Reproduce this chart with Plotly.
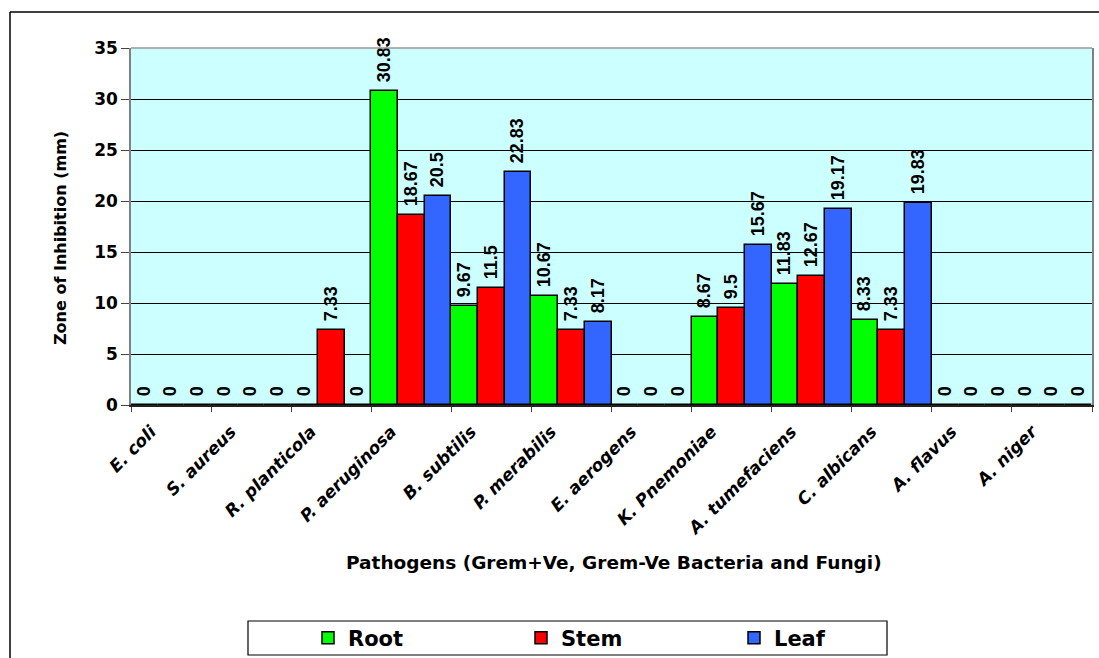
import plotly.graph_objects as go

# Pathogens tested and mean zone of inhibition (mm) for each plant part extract
pathogens = ["E. coli", "S. aureus", "R. planticola", "P. aeruginosa", "B. subtilis",
             "P. merabilis", "E. aerogens", "K. Pnemoniae", "A. tumefaciens",
             "C. albicans", "A. flavus", "A. niger"]
root = [0, 0, 0, 30.83, 9.67, 10.67, 0, 8.67, 11.83, 8.33, 0, 0]
stem = [0, 0, 7.33, 18.67, 11.5, 7.33, 0, 9.5, 12.67, 7.33, 0, 0]
leaf = [0, 0, 0, 20.5, 22.83, 8.17, 0, 15.67, 19.17, 19.83, 0, 0]

series = [("Root", root, "#00FF00"), ("Stem", stem, "#FF0000"), ("Leaf", leaf, "#3366FF")]

W, H = 1099, 658
L, R, T, B = 131, 7, 48, 253
PW, PH = W - L - R, H - T - B


def px_x(p):
    return (p - L) / PW


def px_y(p):
    return (H - B - p) / PH


HFONT = "DejaVu Sans, Arial, sans-serif"
LBL_FONT = "Liberation Sans, Arial, sans-serif"

fig = go.Figure()
for name, vals, color in series:
    fig.add_trace(go.Bar(
        name=name, x=pathogens, y=vals,
        marker=dict(color=color, line=dict(color="black", width=1.5)),
        # leading no-break space keeps the rotated value clear of the bar top
        texttemplate="\u00a0%{y}", textposition="outside", textangle=-90,
        constraintext="none", cliponaxis=False,
        textfont=dict(family=LBL_FONT, size=18, color="black", weight="bold"),
    ))

fig.update_layout(
    width=W, height=H,
    margin=dict(l=L, r=R, t=T, b=B, autoexpand=False),
    paper_bgcolor="white", plot_bgcolor="#CCFFFF",
    barmode="group", bargap=0, bargroupgap=0,
    showlegend=True,
    legend=dict(
        orientation="h", x=px_x(308), xanchor="left", y=px_y(638), yanchor="middle",
        entrywidth=168, entrywidthmode="pixels",
        bgcolor="rgba(0,0,0,0)", borderwidth=0,
        font=dict(family=HFONT, size=21, color="black", weight="bold"),
        traceorder="normal",
    ),
    xaxis=dict(
        type="category", tickson="boundaries", ticks="outside", ticklen=5,
        tickcolor="#444", tickwidth=1, tickangle=-45,
        ticklabelshift=-20, ticklabelstandoff=8,
        showline=True, linecolor="#222", linewidth=2, showgrid=False,
        tickfont=dict(family=HFONT, size=17, color="black", weight="bold", style="italic"),
    ),
    yaxis=dict(
        range=[0, 35], dtick=5, ticks="outside", ticklen=8, tickcolor="#444",
        showline=True, linecolor="#808080", linewidth=1.5, mirror=True,
        showgrid=True, gridcolor="black", gridwidth=1, zeroline=False,
        tickfont=dict(family=HFONT, size=17, color="black", weight="bold"),
    ),
    annotations=[
        dict(text="Zone of Inhibition (mm)", xref="paper", yref="paper",
             x=px_x(60), y=px_y(238), textangle=-90, showarrow=False,
             xanchor="center", yanchor="middle",
             font=dict(family=HFONT, size=16, color="black", weight="bold")),
        dict(text="Pathogens (Grem+Ve, Grem-Ve Bacteria and Fungi)", xref="paper", yref="paper",
             x=px_x(614), y=px_y(562), showarrow=False,
             xanchor="center", yanchor="middle",
             font=dict(family=HFONT, size=18.5, color="black", weight="bold")),
    ],
    shapes=[
        # top edge of the plotting area
        dict(type="line", xref="paper", yref="paper", x0=0, x1=1, y0=1, y1=1,
             line=dict(color="#999999", width=1.5)),
        # outer chart frame
        dict(type="line", xref="paper", yref="paper", x0=px_x(10), x1=px_x(1110),
             y0=px_y(12), y1=px_y(12), line=dict(color="black", width=1.5)),
        dict(type="line", xref="paper", yref="paper", x0=px_x(10), x1=px_x(10),
             y0=px_y(12), y1=px_y(670), line=dict(color="black", width=1.5)),
        # legend frame
        dict(type="rect", xref="paper", yref="paper", x0=px_x(248), x1=px_x(887),
             y0=px_y(621), y1=px_y(655), line=dict(color="black", width=1.2),
             fillcolor="rgba(0,0,0,0)"),
    ],
)

fig.write_html("out.html")
